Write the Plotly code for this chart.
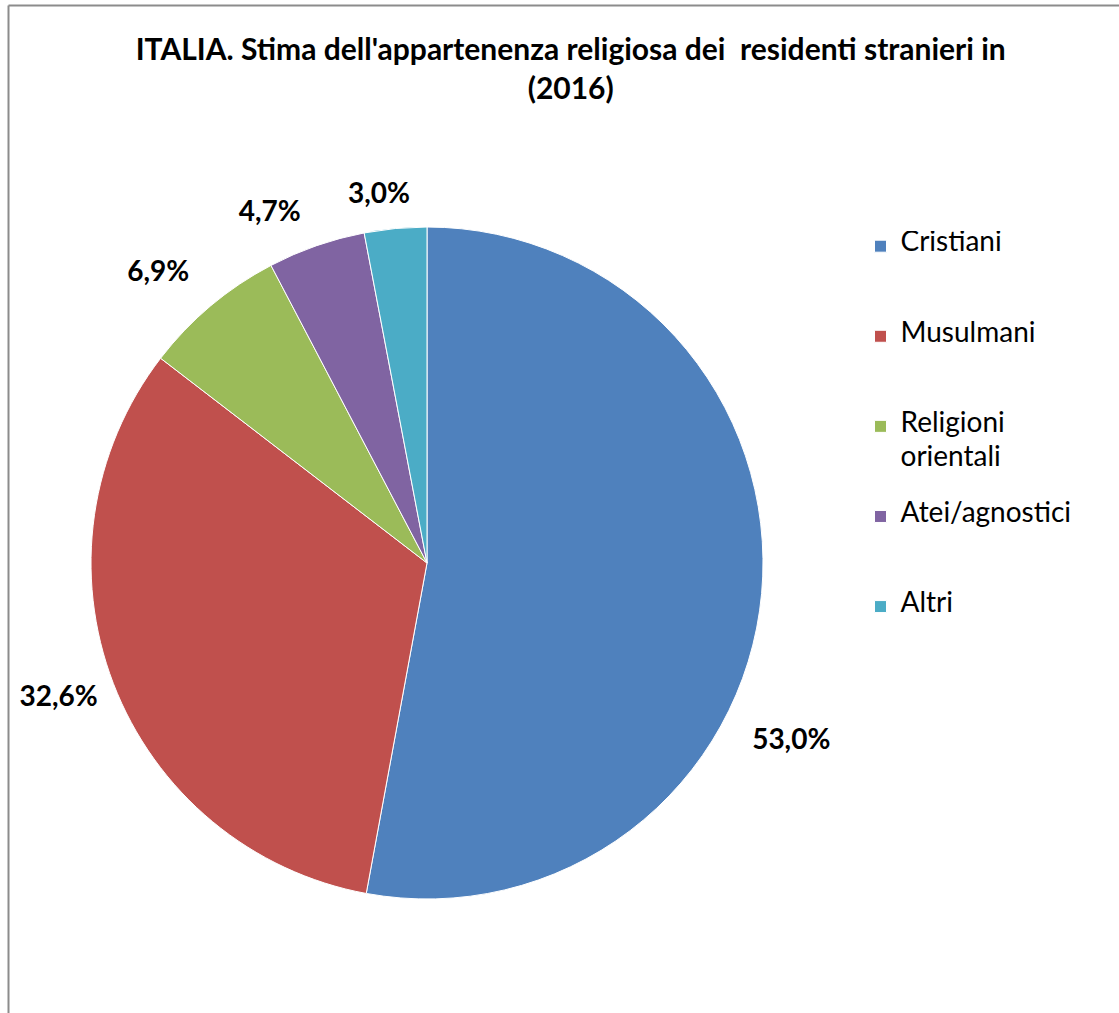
import plotly.graph_objects as go

categories = ["Cristiani", "Musulmani", "Religioni<br>orientali", "Atei/agnostici", "Altri"]
values = [53.0, 32.6, 6.9, 4.7, 3.0]
colors = ["#4F81BD", "#C0504D", "#9BBB59", "#8064A2", "#4BACC6"]

W, H = 1119, 1013
value_labels = [f"{v:.1f}".replace(".", ",") + "%" for v in values]


def legend_label(c):
    # each legend entry spans 5 thin lines; wrapped names use lines 1 and 3
    parts = c.split("<br>")
    lines = [" "] * 5
    for i, p in enumerate(parts):
        lines[2 * i] = f"<span style='font-size:28px'>{p}</span>"
    return "<br>".join(lines)


legend_labels = [legend_label(c) for c in categories]


def square_domain(cx, cy, r):
    return dict(x=[(cx - r) / W, (cx + r) / W], y=[1 - (cy + r) / H, 1 - (cy - r) / H])


fig = go.Figure()
# pie slices
fig.add_trace(go.Pie(
    labels=legend_labels,
    values=values,
    textinfo="none",
    marker=dict(colors=colors, line=dict(color="white", width=1)),
    sort=False,
    direction="clockwise",
    rotation=0,
    hoverinfo="skip",
    domain=square_domain(427, 563, 336),
))


# percentage labels: transparent rings just outside the pie (Excel "best fit" placement)
def label_ring(show, rotation, ring_r):
    fig.add_trace(go.Pie(
        labels=legend_labels,
        values=values,
        text=[t if i in show else "" for i, t in enumerate(value_labels)],
        texttemplate="%{text}",
        textposition="outside",
        textfont=dict(family="Lato", size=28, color="black", weight="bold"),
        marker=dict(colors=["rgba(0,0,0,0)"] * len(values), line=dict(width=0)),
        sort=False,
        direction="clockwise",
        rotation=rotation,
        hoverinfo="skip",
        showlegend=False,
        domain=square_domain(427, 563, ring_r),
    ))


label_ring({0}, 23.2, 360)
label_ring({1}, -1, 346)
label_ring({2}, 1, 364)
label_ring({3}, 0, 358)
label_ring({4}, 4, 354)

fig.update_layout(
    width=W, height=H,
    margin=dict(l=0, r=0, t=0, b=0),
    paper_bgcolor="white",
    title=dict(
        text="<b>ITALIA. Stima dell'appartenenza religiosa dei  residenti stranieri in<br>(2016)</b>",
        x=0.51, xanchor="center", y=0.941, yanchor="top",
        font=dict(family="Lato", size=30, color="black"),
    ),
    legend=dict(
        x=0.769, xanchor="left", y=0.772, yanchor="top",
        font=dict(family="Lato", size=13.4, color="black"),
        valign="top",
        bgcolor="rgba(0,0,0,0)",
    ),
    shapes=[
        dict(type="line", xref="paper", yref="paper",
             x0=8.5 / W, x1=8.5 / W, y0=0, y1=1 - 5.5 / H,
             line=dict(color="#8c8c8c", width=2)),
        dict(type="line", xref="paper", yref="paper",
             x0=8.5 / W, x1=1, y0=1 - 5.5 / H, y1=1 - 5.5 / H,
             line=dict(color="#8c8c8c", width=2)),
    ],
)

fig.write_html("out.html")
